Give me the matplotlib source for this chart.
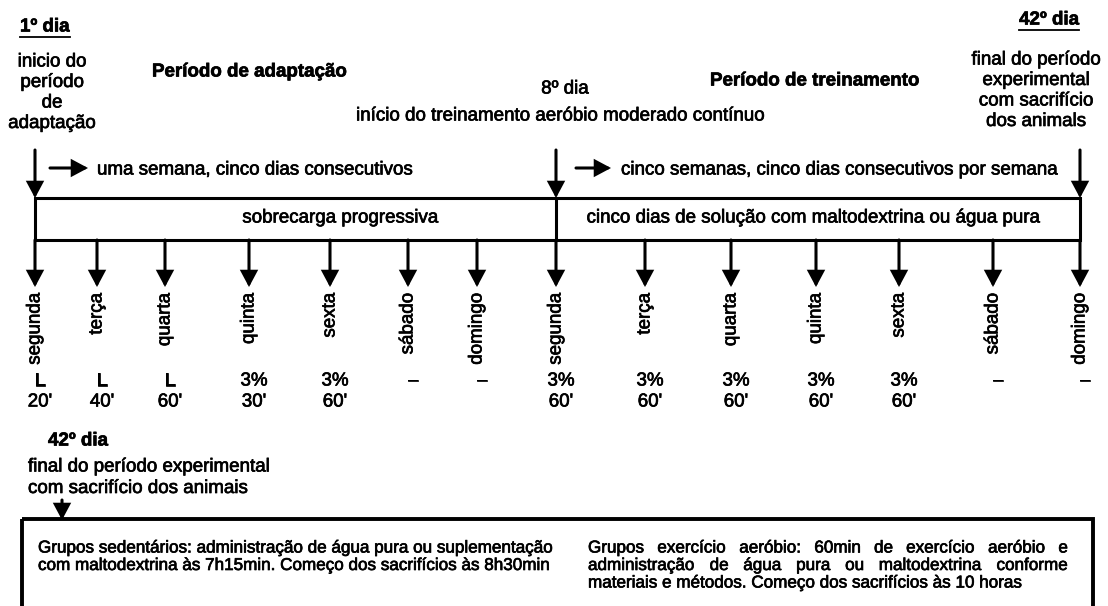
import matplotlib
matplotlib.use('Agg')
import matplotlib.pyplot as plt
import matplotlib.patheffects as pe
from matplotlib.patches import Rectangle, FancyArrowPatch

plt.rcParams['font.family'] = ['Liberation Sans', 'DejaVu Sans']

# ---------------- data ----------------
day_names = ['segunda', 'terça', 'quarta', 'quinta', 'sexta', 'sábado', 'domingo',
             'segunda', 'terça', 'quarta', 'quinta', 'sexta', 'sábado', 'domingo']
load_labels = ['L', 'L', 'L', '3%', '3%', '–', '–',
               '3%', '3%', '3%', '3%', '3%', '–', '–']
duration_labels = ["20'", "40'", "60'", "30'", "60'", "", "",
                   "60'", "60'", "60'", "60'", "60'", "", ""]

start_header = '1º dia'
start_lines = ['inicio do', 'período', 'de', 'adaptação']
end_header = '42º dia'
end_lines = ['final do período', 'experimental', 'com sacrifício', 'dos animals']
phase1_title = 'Período de adaptação'
phase2_title = 'Período de treinamento'
mid_header = '8º dia'
mid_text = 'início do treinamento aeróbio moderado contínuo'
week1_note = 'uma semana, cinco dias consecutivos'
week2_note = 'cinco semanas, cinco dias consecutivos por semana'
box1_text = 'sobrecarga progressiva'
box2_text = 'cinco dias de solução com maltodextrina ou água pura'
bottom_header = '42º dia'
bottom_lines = ['final do período experimental', 'com sacrifício dos animais']
sed_lines = ['Grupos sedentários: administração de água pura ou suplementação',
             'com maltodextrina às 7h15min. Começo dos sacrifícios às 8h30min']
exe_lines = ['Grupos exercício aeróbio: 60min de exercício aeróbio e',
             'administração de água pura ou maltodextrina conforme',
             'materiais e métodos. Começo dos sacrifícios às 10 horas']

# ---------------- layout ----------------
W, H = 1108, 606
day_x = [35, 97, 165, 249, 330, 408, 477, 556, 645, 731, 816, 899, 993, 1080]
FS = 13.5
FS_SMALL = 12.3
LW = 2.2
HEAVY = [pe.withStroke(linewidth=0.5, foreground='black')]

fig = plt.figure(figsize=(W / 100, H / 100), dpi=100)
ax = fig.add_axes([0, 0, 1, 1])
ax.set_xlim(0, W)
ax.set_ylim(H, 0)
ax.axis('off')


def arrow(x0, y0, x1, y1):
    a = FancyArrowPatch((x0, y0), (x1, y1),
                        arrowstyle='-|>,head_length=0.45,head_width=0.24',
                        mutation_scale=20, lw=LW, color='black',
                        shrinkA=0, shrinkB=0, joinstyle='miter')
    ax.add_patch(a)


def txt(x, y, s, ha='left', va='center', fs=FS, **kw):
    return ax.text(x, y, s, ha=ha, va=va, fontsize=fs, color='black',
                   path_effects=HEAVY, **kw)


# top headers
h1 = txt(20, 27, start_header, weight='bold')
for i, s in enumerate(start_lines):
    txt(52, 62 + i * 20.5, s, ha='center')
h2 = txt(1049, 20, end_header, ha='center', weight='bold')
for i, s in enumerate(end_lines):
    txt(1036, 60 + i * 20.5, s, ha='center')

txt(152, 72, phase1_title, weight='bold')
txt(710, 81, phase2_title, weight='bold')
txt(565, 89, mid_header, ha='center')
txt(560, 116, mid_text, ha='center')

# top arrows
top_x = [day_x[0], day_x[7], day_x[-1]]
for x in top_x:
    arrow(x, 150, x, 198)
arrow(50, 168, 88, 168)
arrow(576, 168, 611, 168)
txt(97, 170, week1_note)
txt(621, 170, week2_note)

# main box
ax.add_patch(Rectangle((day_x[0], 198), day_x[-1] - day_x[0], 42,
                       fill=False, lw=LW, ec='black', joinstyle='miter'))
ax.plot([day_x[7], day_x[7]], [198, 240], color='black', lw=LW)
txt(340, 218, box1_text, ha='center')
txt(813, 218, box2_text, ha='center')

# day arrows and labels
for x, name, load, dur in zip(day_x, day_names, load_labels, duration_labels):
    arrow(x, 240, x, 287)
    txt(x, 293, name, ha='center', va='top', rotation=90)
    txt(x + 5, 381, load, ha='center')
    if dur:
        txt(x + 5, 402, dur, ha='center')

# bottom part
txt(48, 441, bottom_header, weight='bold')
for i, s in enumerate(bottom_lines):
    txt(28, 467 + i * 21.5, s)
arrow(62, 500, 62, 520)
ax.add_patch(Rectangle((22, 519), 1071, 200, fill=False, lw=LW + 0.6,
                       ec='black', joinstyle='miter', clip_on=True))

for i, s in enumerate(sed_lines):
    txt(38, 548 + i * 17.5, s, fs=FS_SMALL)

fig.canvas.draw()
r = fig.canvas.get_renderer()

# underline headers
inv = ax.transData.inverted()
for t in (h1, h2):
    bb = t.get_window_extent(r)
    (xa, ya), (xb, yb) = inv.transform([(bb.x0, bb.y0), (bb.x1, bb.y1)])
    ax.plot([xa, xb], [ya + 1, ya + 1], color='black', lw=1.3)

# justified paragraph
x_left, x_right = 588, 1068
for i, s in enumerate(exe_lines):
    y = 548 + i * 17.5
    if i == len(exe_lines) - 1:
        txt(x_left, y, s, fs=FS_SMALL)
        continue
    words = s.split(' ')
    ts = [txt(0, y, w, fs=FS_SMALL) for w in words]
    widths = [t.get_window_extent(r).width for t in ts]
    d0 = ax.transData.transform((x_left, y))[0]
    d1 = ax.transData.transform((x_right, y))[0]
    gap = (d1 - d0 - sum(widths)) / (len(words) - 1)
    pos = d0
    for t, w in zip(ts, widths):
        t.set_x(inv.transform((pos, 0))[0])
        pos += w + gap

fig.savefig('out.png', dpi=100, facecolor='white')
